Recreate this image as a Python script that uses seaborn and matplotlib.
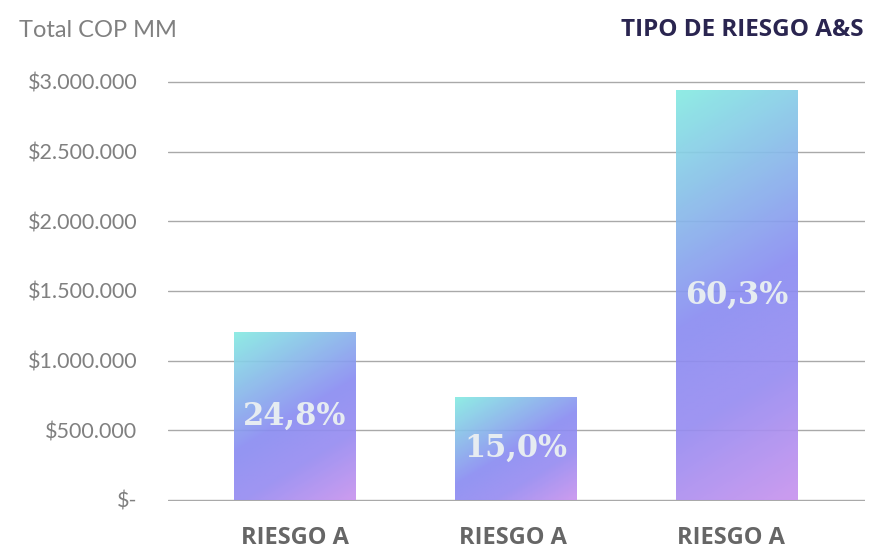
import numpy as np
import pandas as pd
import matplotlib.pyplot as plt
import seaborn as sns
from matplotlib.colors import LinearSegmentedColormap
from matplotlib.ticker import FuncFormatter

categories = ['RIESGO A', 'RIESGO A ', 'RIESGO A  ']
values = [1206000, 739000, 2943000]
pct_labels = ['24,8%', '15,0%', '60,3%']
yticks = [0, 500000, 1000000, 1500000, 2000000, 2500000, 3000000]

df = pd.DataFrame({'cat': categories, 'val': values})

sns.set_theme(style='white')
plt.rcParams['font.family'] = ['Lato', 'DejaVu Sans']

fig = plt.figure(figsize=(8.72, 5.49), dpi=100)
ax = fig.add_axes([0.1927, 0.0875, 0.7993, 0.765])

sns.barplot(data=df, x='cat', y='val', ax=ax, width=0.55, color='#8a8af2')
# small margin so the first and last gridlines are not clipped
ax.set_xlim(-0.575, 2.58)
ax.set_ylim(-7000, 3007000)

# gradient fill: cyan top-left -> blue-violet -> lilac bottom-right
cmap = LinearSegmentedColormap.from_list(
    'grad', [(0, '#86ebe2'), (0.5, '#8a8cf2'), (0.72, '#978cf1'), (1, '#c893ee')])
for p in ax.patches:
    x0, y0 = p.get_x(), p.get_y()
    w, h = p.get_width(), p.get_height()
    (px0, py0), (px1, py1) = ax.transData.transform([(x0, y0), (x0 + w, y0 + h)])
    wpx, hpx = abs(px1 - px0), abs(py1 - py0)
    xs = np.linspace(0, wpx, 60)[None, :]
    ys = np.linspace(0, hpx, 300)[:, None]  # 0 at top
    t = (0.6 * xs + ys) / (0.6 * wpx + hpx)
    im = ax.imshow(t, cmap=cmap, vmin=0, vmax=1, aspect='auto', origin='upper',
                   extent=(x0, x0 + w, y0, y0 + h), zorder=1, alpha=0.92,
                   interpolation='bilinear')
    im.set_clip_path(p)
    p.set_facecolor('none')
    p.set_edgecolor('none')

for i, (val, lab) in enumerate(zip(values, pct_labels)):
    ax.text(i, val / 2, lab, ha='center', va='center', fontsize=22,
            fontweight='bold', family=['DejaVu Serif'], color='#e6ecf1', zorder=4)

ax.set_yticks(yticks)
ax.yaxis.set_major_formatter(FuncFormatter(
    lambda y, _: '$-' if y == 0 else '$' + f'{int(y):,}'.replace(',', '.')))
ax.grid(axis='y', color='#a9a9a9', linewidth=1)
ax.set_axisbelow(True)
for s in ax.spines.values():
    s.set_visible(False)
ax.tick_params(axis='y', length=0, pad=22, labelsize=15.5, labelcolor='#808080')
ax.tick_params(axis='x', length=0, pad=18, labelsize=17, labelcolor='#666666')
for t in ax.get_xticklabels():
    t.set_fontweight('bold')
    t.set_family(['Open Sans', 'DejaVu Sans'])
ax.set_xlabel('')
ax.set_ylabel('')

fig.text(0.022, 0.945, 'Total COP MM', fontsize=17, color='#808080',
         va='center', ha='left')
fig.text(0.99, 0.945, 'TIPO DE RIESGO A&S', fontsize=17.5, fontweight='bold',
         family=['Open Sans', 'DejaVu Sans'], color='#2a2550', va='center', ha='right')

fig.savefig('out.png', dpi=100)
